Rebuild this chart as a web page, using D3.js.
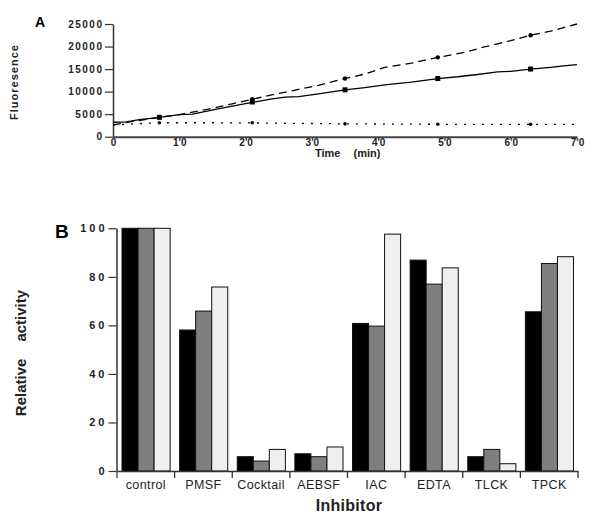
<!DOCTYPE html>
<html><head><meta charset="utf-8">
<script src="https://cdn.jsdelivr.net/npm/d3@7"></script>
<style>body{margin:0;background:#fff}svg{display:block;font-family:"Liberation Sans",Arial,sans-serif}</style>
</head><body><svg id="c" width="600" height="519"></svg>
<script>
// ---- Panel A data ----
const timeTicks = [0,10,20,30,40,50,60,70];
const timeTickLabels = ["0","1'0","2'0","3'0","4'0","5'0","6'0","7'0"];
const fluorTicks = [0,5000,10000,15000,20000,25000];
const solidTime = [0,2,4,7,10,12,14,17,21,24,26,28,31,35,38,41,45,49,52,55,58,60,63,66,68,70];
const solidFluor = [3200,3300,3800,4300,4900,5000,5600,6500,7600,8400,8800,8900,9500,10400,10900,11500,12100,12900,13300,13800,14400,14500,15000,15400,15700,16000];
const dashTime = [0,3,7,10,14,18,21,25,28,31,35,38,41,45,49,53,56,58,60,63,66,70];
const dashFluor = [2600,3400,4300,4900,6000,7300,8300,9600,10500,11400,12900,13900,15400,16300,17600,18700,19900,20600,21300,22500,23400,25000];
const dotTime = [0,4,7,14,21,28,35,42,49,56,63,70];
const dotFluor = [2600,2900,3100,3100,3050,2950,2850,2800,2750,2750,2750,2750];
const markTime = [7,21,35,49,63];
const solidMarks = [4300,7700,10400,12900,15000];
const dashMarks = [4300,8300,12900,17600,22500];
const dotMarks = [3100,3100,2850,2750,2750];

// ---- Panel B data ----
const inhibitors = ["control","PMSF","Cocktail","AEBSF","IAC","EDTA","TLCK","TPCK"];
const series1 = [100,58.1,5.9,7.1,60.8,86.9,5.9,65.6];
const series2 = [100,65.9,4.1,5.9,59.7,77.0,8.9,85.5];
const series3 = [100,75.8,8.9,9.9,97.6,83.7,3.0,88.3];
const activityTicks = [0,20,40,60,80,100];
const seriesColors = ["#000000","#7f7f7f","#efefef"];

const svg = d3.select("#c");

// ================= Panel A =================
const xA = d3.scaleLinear().domain([0,70]).range([113,577]);
const yA = d3.scaleLinear().domain([0,25000]).range([136.7,24]);
const gA = svg.append("g");

// y axis
const yAxA = d3.axisLeft(yA).tickValues(fluorTicks).tickFormat(d3.format("d")).tickSize(8).tickSizeOuter(0).tickPadding(3);
const gyA = gA.append("g").attr("transform","translate(113,0)").call(yAxA);
gyA.select(".domain").attr("stroke","#333").attr("stroke-width",1.5);
gyA.selectAll(".tick line").attr("stroke","#333").attr("stroke-width",1.2);
gyA.selectAll(".tick text").attr("font-size",10).attr("font-weight","bold")
   .attr("letter-spacing",1.5).attr("dx",1.5).attr("fill","#222").attr("font-family","Liberation Sans, Arial, sans-serif");

// x axis
const xAxA = d3.axisBottom(xA).tickValues(timeTicks).tickFormat((d,i)=>timeTickLabels[i]).tickSize(0).tickSizeOuter(0).tickPadding(2);
const gxA = gA.append("g").attr("transform","translate(0,136.7)").call(xAxA);
gxA.select(".domain").attr("stroke","#444").attr("stroke-width",2);
gxA.selectAll(".tick text").attr("font-size",10).attr("font-weight","bold").attr("fill","#222")
   .attr("font-family","Liberation Sans, Arial, sans-serif");

const lineA = d3.line().x(d=>xA(d[0])).y(d=>yA(d[1]));
gA.append("path").datum(solidTime.map((t,i)=>[t,solidFluor[i]])).attr("d",lineA)
  .attr("fill","none").attr("stroke","#000").attr("stroke-width",1.3);
gA.append("path").datum(dashTime.map((t,i)=>[t,dashFluor[i]])).attr("d",lineA)
  .attr("fill","none").attr("stroke","#000").attr("stroke-width",1.3).attr("stroke-dasharray","8,5");
gA.append("path").datum(dotTime.map((t,i)=>[t,dotFluor[i]])).attr("d",lineA)
  .attr("fill","none").attr("stroke","#000").attr("stroke-width",1.3).attr("stroke-dasharray","2,7");

gA.selectAll(".msq").data(markTime.map((t,i)=>[t,solidMarks[i]])).enter().append("rect")
  .attr("x",d=>xA(d[0])-2.5).attr("y",d=>yA(d[1])-2.5).attr("width",5).attr("height",5).attr("fill","#000");
gA.selectAll(".mdash").data(markTime.map((t,i)=>[t,dashMarks[i]])).enter().append("circle")
  .attr("cx",d=>xA(d[0])).attr("cy",d=>yA(d[1])).attr("r",2.2).attr("fill","#000");
gA.selectAll(".mdot").data(markTime.map((t,i)=>[t,dotMarks[i]])).enter().append("circle")
  .attr("cx",d=>xA(d[0])).attr("cy",d=>yA(d[1])).attr("r",1.8).attr("fill","#000");

gA.append("text").attr("x",35).attr("y",27).attr("font-size",14).attr("font-weight","bold").text("A");
gA.append("text").attr("transform","translate(18,82) rotate(-90)").attr("text-anchor","middle")
  .attr("font-size",11).attr("font-weight","bold").attr("letter-spacing",1).attr("fill","#222").text("Fluoresence");
const tA = gA.append("text").attr("x",315).attr("y",157).attr("font-size",11).attr("font-weight","bold").attr("fill","#222");
tA.append("tspan").text("Time");
tA.append("tspan").attr("dx",13).text("(min)");

// ================= Panel B =================
const xB = d3.scaleBand().domain(inhibitors).range([117,578]).padding(0);
const bw = xB.bandwidth();
const pad = 5;
const xB1 = d3.scaleBand().domain([0,1,2]).range([pad, bw-pad+0.5]).padding(0);
const yB = d3.scaleLinear().domain([0,100]).range([471,228.3]);
const gB = svg.append("g");
const allSeries = [series1,series2,series3];

const groups = gB.selectAll(".grp").data(inhibitors).enter().append("g")
  .attr("transform",d=>`translate(${xB(d)},0)`);
groups.selectAll("rect").data((d,i)=>allSeries.map((s,k)=>({k, v:s[i]}))).enter().append("rect")
  .attr("x",d=>xB1(d.k)).attr("width",xB1.bandwidth())
  .attr("y",d=>yB(d.v)).attr("height",d=>yB(0)-yB(d.v))
  .attr("fill",d=>seriesColors[d.k]).attr("stroke","#111").attr("stroke-width",1);

const yAxB = d3.axisLeft(yB).tickValues(activityTicks).tickSize(8).tickSizeOuter(0).tickPadding(4);
const gyB = gB.append("g").attr("transform","translate(116.5,0)").call(yAxB);
gyB.select(".domain").attr("stroke","#333").attr("stroke-width",1.5);
gyB.selectAll(".tick line").attr("stroke","#333").attr("stroke-width",1.2);
gyB.selectAll(".tick text").attr("font-size",11).attr("font-weight","bold").attr("letter-spacing",3)
  .attr("dx",3).attr("fill","#222").attr("font-family","Liberation Sans, Arial, sans-serif");

// x axis with boundary ticks
const xAxB = d3.axisBottom(xB).tickSize(0).tickSizeOuter(0).tickPadding(9);
const gxB = gB.append("g").attr("transform","translate(0,471)").call(xAxB);
gxB.select(".domain").attr("stroke","#333").attr("stroke-width",1.5);
gxB.selectAll(".tick text").attr("font-size",12.5).attr("letter-spacing",0.4).attr("fill","#222")
  .attr("font-family","Liberation Sans, Arial, sans-serif");
const bounds = inhibitors.map(d=>xB(d)).concat([xB(inhibitors[inhibitors.length-1])+bw]);
gB.selectAll(".bt").data(bounds).enter().append("line")
  .attr("x1",d=>d).attr("x2",d=>d).attr("y1",471).attr("y2",478).attr("stroke","#333").attr("stroke-width",1.3);

gB.append("text").attr("x",55).attr("y",237.5).attr("font-size",19).attr("font-weight","bold").text("B");
const rl = gB.append("text").attr("transform","translate(26,353) rotate(-90)").attr("text-anchor","middle")
  .attr("font-size",15).attr("font-weight","bold").attr("fill","#222");
rl.append("tspan").text("Relative");
rl.append("tspan").attr("dx",17).text("activity");
gB.append("text").attr("x",349).attr("y",511).attr("text-anchor","middle").attr("font-size",16)
  .attr("font-weight","bold").attr("letter-spacing",0.3).attr("fill","#222").text("Inhibitor");
</script></body></html>
